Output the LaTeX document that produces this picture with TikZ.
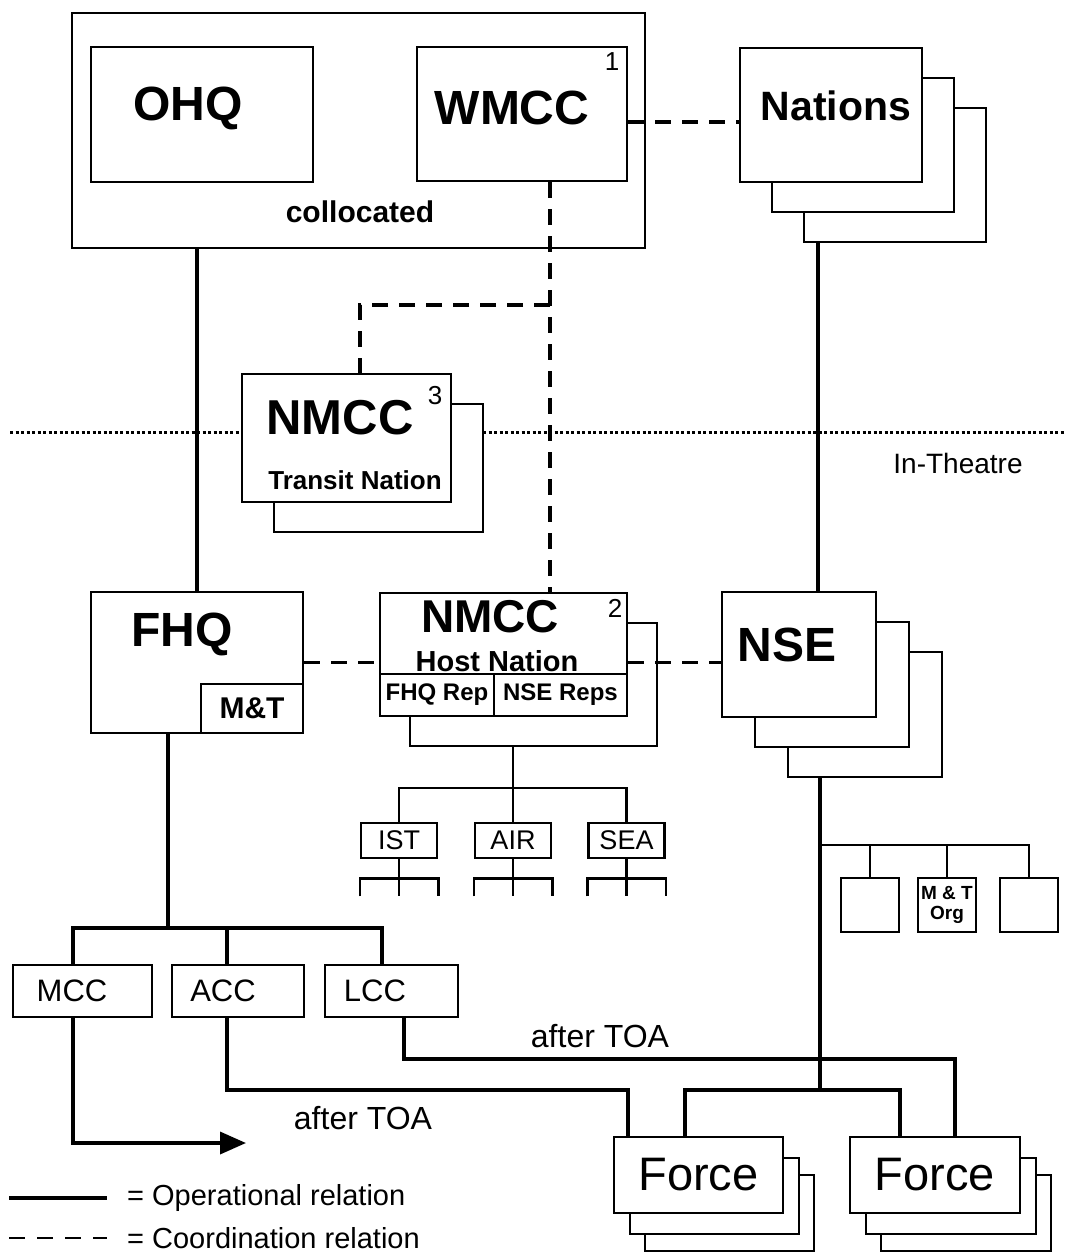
\documentclass[tikz,border=0pt]{standalone}
\usepackage{fontspec}
\setmainfont{Liberation Sans}
\usetikzlibrary{arrows.meta, positioning, shadows, backgrounds}

\tikzset{
    box/.style={draw, line width=2.5pt, fill=white, inner sep=0pt},
    stackback/.style 2 args={general shadow={shadow xshift=#1, shadow yshift=#2,
        fill=white, draw=black, line width=2.5pt}},
    ops/.style={line width=3.5pt},
    tree/.style={line width=2.5pt},
    coord/.style={line width=3.5pt, dash pattern=on 16pt off 11pt},
    headtext/.style={font=\fontsize{48}{50}\selectfont\bfseries},
    subtext/.style={font=\fontsize{28}{30}\selectfont\bfseries},
    plaintext/.style={font=\fontsize{31}{33}\selectfont},
    supnum/.style={font=\fontsize{26}{28}\selectfont},
}

\begin{document}
\begin{tikzpicture}[x=1pt, y=-1pt]
    \useasboundingbox (0,0) rectangle (1065,1254);

    % strategic level
    \node[draw, line width=2.5pt, minimum width=573pt, minimum height=235pt] (coll) at (358.5,130.5) {};
    \node[box, minimum width=222pt, minimum height=135pt] (ohq) at (202,114.5) {};
    \node[box, minimum width=210pt, minimum height=134pt] (wmcc) at (522,114) {};
    \node[headtext] (ohqt) at (188,108) {OHQ};
    \node[headtext] (wmcct) at (512,108) {WMCC};
    \node[supnum] (wmccs) at (612,62) {1};
    \node[subtext, font=\fontsize{30}{32}\selectfont\bfseries] (collt) at (360,212) {collocated};

    \node[box, stackback={64pt}{-60pt}, stackback={32pt}{-30pt},
          minimum width=182pt, minimum height=134pt] (nations) at (831,115) {};
    \node[headtext, font=\fontsize{41}{43}\selectfont\bfseries] (nationst) at (836,106) {Nations};

    % transit nation
    \node[box, stackback={32pt}{-30pt}, minimum width=209pt, minimum height=128pt] (nmcc3) at (346.5,438) {};
    \node[headtext, font=\fontsize{49}{51}\selectfont\bfseries] (nmcc3t) at (340,418) {NMCC};
    \node[supnum] (nmcc3s) at (435,396) {3};
    \node[subtext, font=\fontsize{26}{28}\selectfont\bfseries] (nmcc3n) at (355,480) {Transit Nation};
    \node[font=\fontsize{28}{30}\selectfont] (theatre) at (958,463) {In-Theatre};

    % in theatre
    \node[box, minimum width=212pt, minimum height=141pt] (fhq) at (197,662.5) {};
    \node[headtext] (fhqt) at (182,634) {FHQ};
    \node[box, minimum width=102pt, minimum height=49pt, font=\fontsize{30}{32}\selectfont\bfseries] (fhqmt) at (252,708.5) {M\&T};

    \node[box, stackback={30pt}{-30pt}, minimum width=247pt, minimum height=123pt] (nmcc2) at (503.5,654.5) {};
    \node[headtext, font=\fontsize{46}{48}\selectfont\bfseries] (nmcc2t) at (490,617) {NMCC};
    \node[supnum] (nmcc2s) at (615,608) {2};
    \node[subtext, font=\fontsize{29}{31}\selectfont\bfseries] (nmcc2n) at (497,661) {Host Nation};
    \node[box, minimum width=114pt, minimum height=42pt, font=\fontsize{24}{26}\selectfont\bfseries] (fhqrep) at (437,695) {FHQ Rep};
    \node[box, minimum width=133pt, minimum height=42pt, font=\fontsize{24}{26}\selectfont\bfseries] (nsereps) at (560.5,695) {NSE Reps};

    \node[box, stackback={66pt}{-60pt}, stackback={33pt}{-30pt},
          minimum width=154pt, minimum height=125pt] (nse) at (799,654.5) {};
    \node[headtext] (nset) at (787,645) {NSE};

    \node[box, minimum width=58pt, minimum height=54pt] (orga) at (870,905) {};
    \node[box, minimum width=58pt, minimum height=54pt, align=center,
          font=\fontsize{19}{20}\selectfont\bfseries] (orgmt) at (947,905) {M \& T\\Org};
    \node[box, minimum width=58pt, minimum height=54pt] (orgc) at (1029,905) {};

    \foreach \name/\x/\txt in {ist/399/IST, air/513/AIR, sea/626.5/SEA} {
        \node[box, minimum width=76pt, minimum height=35pt, font=\fontsize{27}{29}\selectfont] (\name) at (\x,840.5) {\txt};
        \draw[tree] ([yshift=-37pt]\name.south west) |- ([yshift=-19pt]\name.south) -| ([yshift=-37pt]\name.south east);
        \draw[tree] (\name.south) -- ++(0,37);
    }

    \node[box, minimum width=139pt, minimum height=52pt] (mcc) at (82.5,991) {};
    \node[box, minimum width=132pt, minimum height=52pt] (acc) at (238,991) {};
    \node[box, minimum width=133pt, minimum height=52pt] (lcc) at (391.5,991) {};
    \node[plaintext] (mcct) at (72,991) {MCC};
    \node[plaintext] (acct) at (223,991) {ACC};
    \node[plaintext] (lcct) at (375,991) {LCC};

    \node[box, stackback={31pt}{-38pt}, stackback={16pt}{-21pt},
          minimum width=169pt, minimum height=76pt, font=\fontsize{47}{49}\selectfont] (forcea) at (698.5,1175) {Force};
    \node[box, stackback={31pt}{-38pt}, stackback={16pt}{-21pt},
          minimum width=170pt, minimum height=76pt, font=\fontsize{47}{49}\selectfont] (forceb) at (935,1175) {Force};

    \node[plaintext, font=\fontsize{32}{34}\selectfont] (toaa) at (600,1036) {after TOA};
    \node[plaintext, font=\fontsize{32}{34}\selectfont] (toab) at (363,1118) {after TOA};

    % junctions
    \coordinate (split3) at (550,305);
    \coordinate (hsplit) at (513,788);
    \coordinate (nsub) at (820,845);
    \coordinate (csplit) at (168,928);
    \coordinate (fsplit) at (820,1090);
    \coordinate (accturn) at (628,1090);
    \coordinate (lccturn) at (955,1059);
    \coordinate (mccend) at (246,1143);
    \coordinate (nsetop) at ([xshift=19pt]nse.north);
    \coordinate (wmccr) at ([yshift=-8pt]wmcc.east);
    \coordinate (mccup) at ([xshift=-9.5pt]mcc.north);
    \coordinate (accup) at ([xshift=-11pt]acc.north);
    \coordinate (lccup) at ([xshift=-9.5pt]lcc.north);
    \coordinate (mccdn) at ([xshift=-9.5pt]mcc.south);
    \coordinate (accdn) at ([xshift=-11pt]acc.south);
    \coordinate (lccdn) at ([xshift=12.5pt]lcc.south);
    \coordinate (theatrel) at (10,432);
    \coordinate (theatrer) at (1065,432);

    \begin{scope}[on background layer]
        \draw[line width=3pt, dash pattern=on 3pt off 2.5pt] (theatrel) -- (theatrer);
        \draw[ops] (fhq.north |- coll.south) -- (fhq.north);
        \draw[ops] (nsetop |- nations.south) -- (nsetop);
        \draw[ops] (fsplit |- nse.south) -- (fsplit);
        \draw[tree] (hsplit |- nmcc2.south) -- (hsplit);
    \end{scope}

    % coordination
    \draw[coord] (wmcc.south -| split3) -- (nmcc2.north -| split3);
    \draw[coord] (split3) -| ([xshift=13.5pt]nmcc3.north);
    \draw[coord] (wmccr) -- (wmccr -| nations.west);
    \draw[coord] (fhq.east) -- (fhq.east -| nmcc2.west);
    \draw[coord] (nmcc2.east |- fhq.east) -- (nse.west |- fhq.east);

    % operational
    \draw[tree] (nsub) -| (orgc.north);
    \draw[tree] (orga.north) -- (orga.north |- nsub);
    \draw[tree] (orgmt.north) -- (orgmt.north |- nsub);
    \draw[tree] (ist.north) |- (hsplit) -| (sea.north);
    \draw[tree] (air.north) -- (hsplit);

    \draw[ops] (csplit |- fhq.south) -- (csplit);
    \draw[ops] (mccup) |- (csplit) -| (lccup);
    \draw[ops] (accup) -- (accup |- csplit);
    \draw[ops, -{Triangle[length=26pt, width=22pt]}] (mccdn) |- (mccend);
    \draw[ops] (accdn) |- (accturn) -- (accturn |- forcea.north);
    \draw[ops] (lccdn) |- (lccturn) -- (lccturn |- forceb.north);
    \draw[ops] (fsplit) -| ([xshift=-13.5pt]forcea.north);
    \draw[ops] (fsplit) -| ([xshift=-35pt]forceb.north);

    % legend
    \coordinate (legopa) at (9,1198);
    \coordinate (legopb) at (107,1198);
    \coordinate (legcoa) at (9,1238);
    \coordinate (legcob) at (107,1238);
    \draw[ops] (legopa) -- (legopb);
    \draw[line width=2pt, dash pattern=on 16pt off 12pt] (legcoa) -- (legcob);
    \node[anchor=west, inner sep=0pt, font=\fontsize{29}{31}\selectfont] (legop) at (127,1198) {= Operational relation};
    \node[anchor=west, inner sep=0pt, font=\fontsize{29}{31}\selectfont] (legco) at (127,1238) {= Coordination relation};
\end{tikzpicture}
\end{document}
